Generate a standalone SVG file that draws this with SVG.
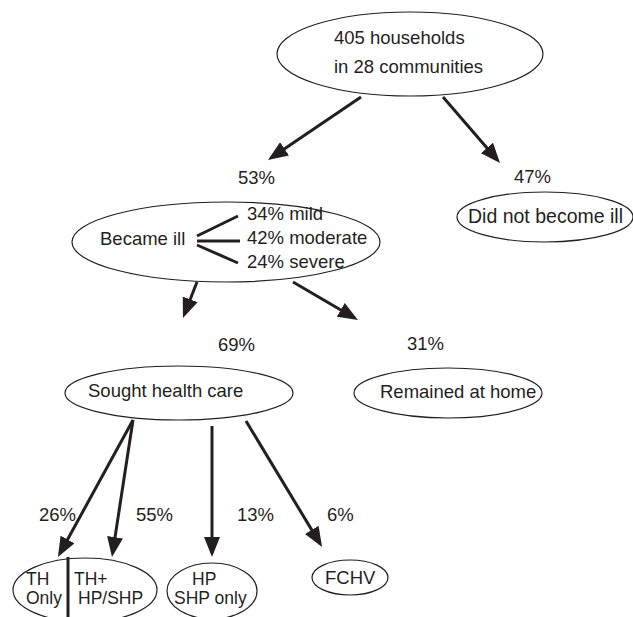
<svg xmlns="http://www.w3.org/2000/svg" width="633" height="617" viewBox="0 0 633 617">
<style>
text{font-family:"Liberation Sans",Arial,sans-serif;font-size:18.5px;fill:#231f20}
text.s{font-size:17.5px}
.n{fill:#fff;stroke:#231f20;stroke-width:1.2}
.c{stroke:#231f20;stroke-width:3;fill:none}
</style>
<defs>
<marker id="ah" viewBox="0 0 20 16" refX="16" refY="8" markerWidth="20" markerHeight="16" markerUnits="userSpaceOnUse" orient="auto">
<path d="M0,0 L20,8 L0,16 z" fill="#231f20"/>
</marker>
</defs>
<rect width="633" height="617" fill="#fff"/>
<g id="n-top"><ellipse class="n" cx="410" cy="54" rx="133" ry="42"/><text x="334" y="44">405 households</text><text x="334" y="73">in 28 communities</text></g>
<g id="n-ill"><ellipse class="n" cx="226" cy="242" rx="154" ry="40"/><text x="100" y="245">Became ill</text><text x="247" y="220">34% mild</text><text x="247" y="244">42% moderate</text><text x="247" y="268">24% severe</text></g>
<g id="n-notill"><ellipse class="n" cx="545" cy="217" rx="88" ry="25"/><text x="468" y="223" style="font-size:19.5px">Did not become ill</text></g>
<g id="n-sought"><ellipse class="n" cx="179" cy="393" rx="114" ry="27"/><text x="88" y="397">Sought health care</text></g>
<g id="n-home"><ellipse class="n" cx="448" cy="393" rx="94" ry="25"/><text x="380" y="398">Remained at home</text></g>
<g id="n-th"><ellipse class="n" cx="85" cy="590" rx="72" ry="32"/><text class="s" x="26" y="585">TH</text><text class="s" x="26" y="604">Only</text><text class="s" x="74" y="585">TH+</text><text class="s" x="78" y="604">HP/SHP</text></g>
<g id="n-hp"><ellipse class="n" cx="212" cy="591" rx="45" ry="28"/><text class="s" x="192" y="585">HP</text><text class="s" x="174" y="604">SHP only</text></g>
<g id="n-fchv"><ellipse class="n" cx="350" cy="577.5" rx="38" ry="17.5"/><text x="325" y="584">FCHV</text></g>
<g id="connectors">
<path class="c" d="M197,236 L238,216 M197,241 L240,241 M197,245 L238,263"/>
<path class="c" d="M68,557 L68,617"/>
<path class="c" marker-end="url(#ah)" d="M361,97 L271.3,157.8"/>
<path class="c" marker-end="url(#ah)" d="M443,97 L497.4,160"/>
<path class="c" marker-end="url(#ah)" d="M197,282 L184.4,314.3"/>
<path class="c" marker-end="url(#ah)" d="M293,282 L354.5,318"/>
<path class="c" marker-end="url(#ah)" d="M133,420 L59.9,553.5"/>
<path class="c" marker-end="url(#ah)" d="M133,420 L112.6,553"/>
<path class="c" marker-end="url(#ah)" d="M212,426 L212,553"/>
<path class="c" marker-end="url(#ah)" d="M246,421 L320,543.6"/>
</g>
<g id="labels">
<text x="238" y="184">53%</text>
<text x="514" y="183">47%</text>
<text x="218" y="351">69%</text>
<text x="407" y="350">31%</text>
<text x="39" y="521">26%</text>
<text x="136" y="521">55%</text>
<text x="237" y="521">13%</text>
<text x="327" y="521">6%</text>
</g>
</svg>
